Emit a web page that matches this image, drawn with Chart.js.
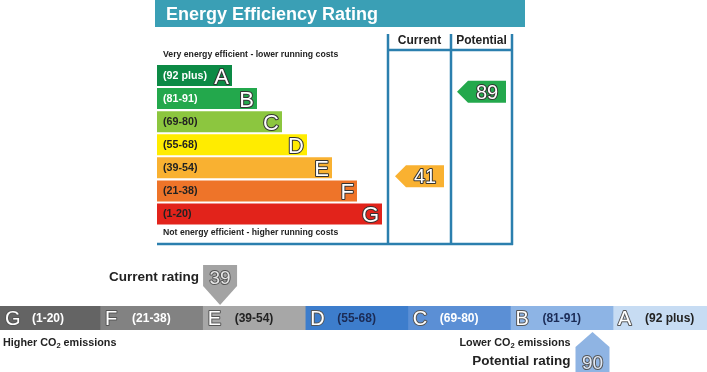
<!DOCTYPE html>
<html>
<head>
<meta charset="utf-8">
<script src="https://cdn.jsdelivr.net/npm/chart.js@4.4.1/dist/chart.umd.min.js"></script>
<style>
  body { margin: 0; background: #fff; }
  #wrap { position: relative; width: 707px; height: 372px; overflow: hidden; }
  #eeChart { position: absolute; left: 0; top: 0; }
  #co2Chart { position: absolute; left: 0; top: 255px; }
</style>
</head>
<body>
<div id="wrap">
  <canvas id="eeChart" width="707" height="255"></canvas>
  <canvas id="co2Chart" width="707" height="117"></canvas>
</div>
<script>
var FONT = '"Liberation Sans", Arial, sans-serif';

// energy efficiency bands, top to bottom
var bands = ['A', 'B', 'C', 'D', 'E', 'F', 'G'];
var bandRanges = ['92 plus', '81-91', '69-80', '55-68', '39-54', '21-38', '1-20'];
var bandLow = [92, 81, 69, 55, 39, 21, 1];
var bandHigh = [100, 91, 80, 68, 54, 38, 20];
var barLengths = [3, 4, 5, 6, 7, 8, 9];
var bandColors = ['#0c8a45', '#23a84c', '#8cc63f', '#ffec00', '#f9b131', '#ee7429', '#e2231b'];
var currentRating = 41;
var potentialRating = 89;

// CO2 strip, left to right
var co2Bands = ['G', 'F', 'E', 'D', 'C', 'B', 'A'];
var co2Ranges = ['1-20', '21-38', '39-54', '55-68', '69-80', '81-91', '92 plus'];
var co2Low = [1, 21, 39, 55, 69, 81, 92];
var co2High = [20, 38, 54, 68, 80, 91, 100];
var co2Widths = [1, 1, 1, 1, 1, 1, 1];
var co2Colors = ['#646464', '#828282', '#a7a7a7', '#3d7dcc', '#5b8fd5', '#8db4e5', '#c7dcf3'];
var co2TextColors = ['#fff', '#fff', '#222', '#1b2b55', '#fff', '#1b2b55', '#222'];
var co2Current = 39;
var co2Potential = 90;

function bandIndex(v, lo, hi) {
    for (var i = 0; i < lo.length; i++) {
        if (v >= lo[i] && v <= hi[i]) return i;
    }
    return 0;
}

// white letters with a thin dark outline
function outlined(c, txt, x, y, size, fill, stroke, align) {
    c.font = size + 'px ' + FONT;
    c.textAlign = align || 'center';
    c.textBaseline = 'alphabetic';
    c.lineJoin = 'round';
    c.lineWidth = 2;
    c.strokeStyle = stroke;
    c.fillStyle = fill;
    c.strokeText(txt, x, y);
    c.fillText(txt, x, y);
}

// text with a subscript 2 in "CO2"
function co2Label(c, pre, post, x, y, size, alignRight) {
    c.textAlign = 'left';
    c.textBaseline = 'middle';
    c.fillStyle = '#222';
    var big = 'bold ' + size + 'px ' + FONT;
    var small = 'bold ' + (size * 0.7) + 'px ' + FONT;
    c.font = big;
    var w1 = c.measureText(pre).width, w3 = c.measureText(post).width;
    c.font = small;
    var w2 = c.measureText('2').width;
    if (alignRight) x = x - (w1 + w2 + w3);
    c.font = big;
    c.fillText(pre, x, y);
    c.font = small;
    c.fillText('2', x + w1, y + size * 0.3);
    c.font = big;
    c.fillText(post, x + w1 + w2, y);
}

var eeDecor = {
    id: 'eeDecor',
    beforeDraw: function (chart) {
        var c = chart.ctx;
        c.save();
        c.fillStyle = '#3a9fb5';
        c.fillRect(155, 0, 370, 27);
        c.fillStyle = '#fff';
        c.font = 'bold 18px ' + FONT;
        c.textAlign = 'left';
        c.textBaseline = 'alphabetic';
        c.fillText('Energy Efficiency Rating', 166, 20);

        c.strokeStyle = '#2b7fae';
        c.lineWidth = 2.5;
        c.beginPath();
        [388, 451, 512].forEach(function (x) {
            c.moveTo(x, 34);
            c.lineTo(x, 245);
        });
        c.moveTo(388, 50);
        c.lineTo(512, 50);
        c.moveTo(157, 244);
        c.lineTo(513, 244);
        c.stroke();

        c.fillStyle = '#222';
        c.font = 'bold 12px ' + FONT;
        c.textAlign = 'center';
        c.textBaseline = 'middle';
        c.fillText('Current', 419.5, 41);
        c.fillText('Potential', 481.5, 41);

        c.textAlign = 'left';
        c.font = 'bold 8.7px ' + FONT;
        c.fillText('Very energy efficient - lower running costs', 163, 55);
        c.fillText('Not energy efficient - higher running costs', 163, 233);
        c.restore();
    },
    afterDatasetsDraw: function (chart) {
        var c = chart.ctx;
        var meta = chart.getDatasetMeta(0);
        var yScale = chart.scales.y;
        c.save();
        meta.data.forEach(function (bar, i) {
            var p = bar.getProps(['x', 'y', 'base'], true);
            c.fillStyle = i < 2 ? '#fff' : '#222';
            c.font = 'bold 10.7px ' + FONT;
            c.textAlign = 'left';
            c.textBaseline = 'middle';
            c.fillText('(' + bandRanges[i] + ')', p.base + 6, p.y + 0.5);
            outlined(c, bands[i], p.x - 3, p.y + 8, 22, '#fff', '#333', 'right');
        });

        var pitch = yScale.getPixelForValue(1) - yScale.getPixelForValue(0);
        function arrow(value, x0, x1) {
            var i = bandIndex(value, bandLow, bandHigh);
            var frac = (value - bandLow[i]) / (bandHigh[i] - bandLow[i]);
            var cy = yScale.getPixelForValue(i) + (0.5 - frac) * pitch;
            c.fillStyle = bandColors[i];
            c.beginPath();
            c.moveTo(x0, cy);
            c.lineTo(x0 + 11, cy - 11);
            c.lineTo(x1, cy - 11);
            c.lineTo(x1, cy + 11);
            c.lineTo(x0 + 11, cy + 11);
            c.closePath();
            c.fill();
            outlined(c, String(value), (x0 + 11 + x1) / 2, cy + 7, 20, '#fff', '#333', 'center');
        }
        arrow(currentRating, 395, 444);
        arrow(potentialRating, 457, 506);
        c.restore();
    }
};

new Chart(document.getElementById('eeChart').getContext('2d'), {
    type: 'bar',
    data: {
        labels: bands,
        datasets: [
            {
                data: barLengths,
                backgroundColor: bandColors,
                borderWidth: 0,
                barPercentage: 0.91,
                categoryPercentage: 1
            }
        ]
    },
    options: {
        indexAxis: 'y',
        responsive: false,
        animation: false,
        layout: { padding: { left: 157, right: 325, top: 64, bottom: 29.5 } },
        plugins: { legend: { display: false }, tooltip: { enabled: false } },
        scales: {
            x: { display: false, min: 0, max: 9 },
            y: { display: false }
        }
    },
    plugins: [eeDecor]
});

var co2Decor = {
    id: 'co2Decor',
    afterDatasetsDraw: function (chart) {
        var c = chart.ctx;
        var xs = chart.scales.x;
        var area = chart.chartArea;
        var cy = (area.top + area.bottom) / 2;
        c.save();
        chart.data.datasets.forEach(function (ds, i) {
            var p = chart.getDatasetMeta(i).data[0].getProps(['x', 'base'], true);
            var left = Math.max(p.base, 0);
            outlined(c, co2Bands[i], left + 5, cy + 7, 20, '#fff', '#555', 'left');
            c.fillStyle = co2TextColors[i];
            c.font = 'bold 12px ' + FONT;
            c.textAlign = 'left';
            c.textBaseline = 'middle';
            c.fillText('(' + co2Ranges[i] + ')', left + 32, cy + 1);
        });

        function tipX(value) {
            var i = bandIndex(value, co2Low, co2High);
            var frac = (value - co2Low[i]) / (co2High[i] - co2Low[i]);
            return xs.getPixelForValue(i + 0.17 + 0.7 * frac);
        }

        // current marker, pointing down onto the strip
        var tx = tipX(co2Current);
        c.fillStyle = '#a3a3a3';
        c.beginPath();
        c.moveTo(tx - 17, 10);
        c.lineTo(tx + 17, 10);
        c.lineTo(tx + 17, 31);
        c.lineTo(tx, area.top - 1);
        c.lineTo(tx - 17, 31);
        c.closePath();
        c.fill();
        outlined(c, String(co2Current), tx, 29, 19, '#e6e6e6', '#555', 'center');
        c.fillStyle = '#222';
        c.font = 'bold 13.5px ' + FONT;
        c.textAlign = 'right';
        c.textBaseline = 'middle';
        c.fillText('Current rating', tx - 21, 22);

        // potential marker, pointing up at the strip
        var px = tipX(co2Potential);
        c.fillStyle = '#8fb4e3';
        c.beginPath();
        c.moveTo(px, area.bottom + 2);
        c.lineTo(px + 17, area.bottom + 17);
        c.lineTo(px + 17, 117);
        c.lineTo(px - 17, 117);
        c.lineTo(px - 17, area.bottom + 17);
        c.closePath();
        c.fill();
        outlined(c, String(co2Potential), px, 114, 19, '#dfe9f7', '#555', 'center');
        c.fillStyle = '#222';
        c.font = 'bold 13.5px ' + FONT;
        c.textAlign = 'right';
        c.textBaseline = 'middle';
        c.fillText('Potential rating', px - 22, 106);

        co2Label(c, 'Higher CO', ' emissions', 3, 88, 10.8, false);
        co2Label(c, 'Lower CO', ' emissions', px - 22, 88, 10.8, true);
        c.restore();
    }
};

new Chart(document.getElementById('co2Chart').getContext('2d'), {
    type: 'bar',
    data: {
        labels: [''],
        datasets: co2Bands.map(function (b, i) {
            return {
                label: b,
                data: [co2Widths[i]],
                backgroundColor: co2Colors[i],
                borderWidth: 0,
                barPercentage: 1,
                categoryPercentage: 1
            };
        })
    },
    options: {
        indexAxis: 'y',
        responsive: false,
        animation: false,
        layout: { padding: { left: 0, right: 0, top: 51, bottom: 42 } },
        plugins: { legend: { display: false }, tooltip: { enabled: false } },
        scales: {
            x: { display: false, stacked: true, min: 0.025, max: 6.916 },
            y: { display: false, stacked: true }
        }
    },
    plugins: [co2Decor]
});
</script>
</body>
</html>
